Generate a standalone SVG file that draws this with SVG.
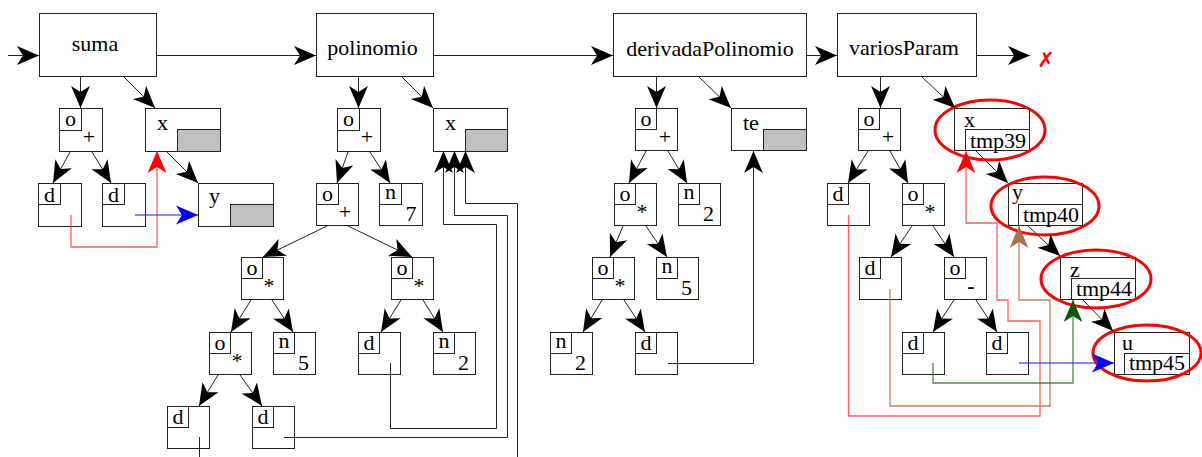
<svg xmlns="http://www.w3.org/2000/svg" width="1202" height="457" viewBox="0 0 1202 457">
<defs>
<style>
.box{fill:#fff;stroke:#222;stroke-width:1}
.tag{fill:none;stroke:#222;stroke-width:1}
.gray{fill:#c0c0c0;stroke:#222;stroke-width:1}
.inner{fill:#fff;stroke:#222;stroke-width:1}
.t{font-family:"Liberation Serif","Times New Roman",serif;font-size:22px;fill:#000}
.m{text-anchor:middle}
.e{fill:none;stroke:#222;stroke-width:1;marker-end:url(#ak)}
.ln{fill:none;stroke:#222;stroke-width:1}
.cr{fill:none;stroke:#ff2a2a;stroke-opacity:.75;stroke-width:1.3;marker-end:url(#ar)}
.cb{fill:none;stroke:#2a2aff;stroke-opacity:.75;stroke-width:1.3;marker-end:url(#ab)}
.cn{fill:none;stroke:#b07050;stroke-opacity:.85;stroke-width:1.3;marker-end:url(#an)}
.cg{fill:none;stroke:#1e6a1e;stroke-opacity:.8;stroke-width:1.3;marker-end:url(#ag)}
.hl{fill:none;stroke:#f00;stroke-width:3}
</style>
<marker id="ak" viewBox="0 0 22 20" refX="22" refY="10" markerWidth="22" markerHeight="20" markerUnits="userSpaceOnUse" orient="auto"><path d="M0,0.6 L22,10 L0,19.4 L6,10 Z" fill="#000"/></marker>
<marker id="ar" viewBox="0 0 22 20" refX="22" refY="10" markerWidth="22" markerHeight="20" markerUnits="userSpaceOnUse" orient="auto"><path d="M0,0.6 L22,10 L0,19.4 L6,10 Z" fill="#f00"/></marker>
<marker id="ab" viewBox="0 0 22 20" refX="22" refY="10" markerWidth="22" markerHeight="20" markerUnits="userSpaceOnUse" orient="auto"><path d="M0,0.6 L22,10 L0,19.4 L6,10 Z" fill="#00f"/></marker>
<marker id="an" viewBox="0 0 22 20" refX="22" refY="10" markerWidth="22" markerHeight="20" markerUnits="userSpaceOnUse" orient="auto"><path d="M0,0.6 L22,10 L0,19.4 L6,10 Z" fill="#a8704e"/></marker>
<marker id="ag" viewBox="0 0 22 20" refX="22" refY="10" markerWidth="22" markerHeight="20" markerUnits="userSpaceOnUse" orient="auto"><path d="M0,0.6 L22,10 L0,19.4 L6,10 Z" fill="#0a5a0a"/></marker>
</defs>
<rect width="1202" height="457" fill="#fff"/>

<!-- function boxes -->
<g id="f_suma"><rect class="box" x="39.5" y="13.5" width="117" height="63"/><text class="t m" x="95" y="51">suma</text></g>
<g id="f_polinomio"><rect class="box" x="316.5" y="13.5" width="117" height="63"/><text class="t m" x="372.5" y="55">polinomio</text></g>
<g id="f_derivada"><rect class="box" x="613.5" y="13.5" width="193" height="63"/><text class="t m" x="710" y="56">derivadaPolinomio</text></g>
<g id="f_varios"><rect class="box" x="837.5" y="13.5" width="139" height="63"/><text class="t m" x="904" y="55">variosParam</text></g>
<g id="end_mark"><text x="1046" y="67" font-family="DejaVu Sans, sans-serif" font-size="21" fill="#f00" text-anchor="middle">✗</text></g>

<!-- suma nodes -->
<g id="sum_op"><rect class="box" x="59.5" y="108.5" width="43" height="43"/><rect class="tag" x="59.5" y="108.5" width="22" height="22"/><text class="t m" x="70.5" y="126">o</text><text class="t m" x="89" y="144">+</text></g>
<g id="sum_x"><rect class="box" x="145.5" y="108.5" width="75" height="43"/><rect class="gray" x="177.5" y="129.5" width="43" height="22"/><text class="t" x="157" y="130">x</text></g>
<g id="sum_d1"><rect class="box" x="38.5" y="183.5" width="43" height="43"/><rect class="tag" x="38.5" y="183.5" width="22" height="21"/><text class="t m" x="49.5" y="202">d</text></g>
<g id="sum_d2"><rect class="box" x="102.5" y="183.5" width="43" height="43"/><rect class="tag" x="102.5" y="183.5" width="22" height="21"/><text class="t m" x="113.5" y="202">d</text></g>
<g id="sum_y"><rect class="box" x="198.5" y="183.5" width="75" height="43"/><rect class="gray" x="230.5" y="204.5" width="43" height="22"/><text class="t" x="209" y="203">y</text></g>

<!-- polinomio nodes -->
<g id="pol_op1"><rect class="box" x="337.5" y="108.5" width="43" height="43"/><rect class="tag" x="337.5" y="108.5" width="22" height="22"/><text class="t m" x="348.5" y="126">o</text><text class="t m" x="367" y="144">+</text></g>
<g id="pol_x"><rect class="box" x="433.5" y="108.5" width="74" height="43"/><rect class="gray" x="465.5" y="129.5" width="42" height="22"/><text class="t" x="445" y="130">x</text></g>
<g id="pol_op2"><rect class="box" x="316.5" y="183.5" width="42" height="42"/><rect class="tag" x="316.5" y="183.5" width="22" height="21"/><text class="t m" x="327.5" y="201">o</text><text class="t m" x="345" y="219">+</text></g>
<g id="pol_n7"><rect class="box" x="379.5" y="183.5" width="43" height="42"/><rect class="tag" x="379.5" y="183.5" width="22" height="21"/><text class="t m" x="390.5" y="199">n</text><text class="t m" x="411" y="221">7</text></g>
<g id="pol_mul1"><rect class="box" x="241.5" y="257.5" width="42" height="42"/><rect class="tag" x="241.5" y="257.5" width="21" height="21"/><text class="t m" x="252" y="275">o</text><text class="t m" x="269" y="293">*</text></g>
<g id="pol_mul2"><rect class="box" x="391.5" y="257.5" width="42" height="42"/><rect class="tag" x="391.5" y="257.5" width="21" height="21"/><text class="t m" x="402" y="275">o</text><text class="t m" x="419" y="293">*</text></g>
<g id="pol_mul3"><rect class="box" x="209.5" y="332.5" width="42" height="42"/><rect class="tag" x="209.5" y="332.5" width="21" height="21"/><text class="t m" x="220" y="350">o</text><text class="t m" x="237" y="368">*</text></g>
<g id="pol_n5"><rect class="box" x="273.5" y="332.5" width="42" height="42"/><rect class="tag" x="273.5" y="332.5" width="21" height="21"/><text class="t m" x="284" y="348">n</text><text class="t m" x="303.5" y="370">5</text></g>
<g id="pol_d1"><rect class="box" x="358.5" y="332.5" width="42" height="42"/><rect class="tag" x="358.5" y="332.5" width="21" height="21"/><text class="t m" x="369" y="350">d</text></g>
<g id="pol_n2"><rect class="box" x="433.5" y="332.5" width="42" height="42"/><rect class="tag" x="433.5" y="332.5" width="21" height="21"/><text class="t m" x="444" y="348">n</text><text class="t m" x="463.5" y="370">2</text></g>
<g id="pol_d2"><rect class="box" x="167.5" y="406.5" width="42" height="42"/><rect class="tag" x="167.5" y="406.5" width="21" height="21"/><text class="t m" x="178" y="424">d</text></g>
<g id="pol_d3"><rect class="box" x="252.5" y="406.5" width="42" height="42"/><rect class="tag" x="252.5" y="406.5" width="21" height="21"/><text class="t m" x="263" y="424">d</text></g>

<!-- derivadaPolinomio nodes -->
<g id="der_op1"><rect class="box" x="635.5" y="108.5" width="42" height="42"/><rect class="tag" x="635.5" y="108.5" width="21" height="21"/><text class="t m" x="646" y="126">o</text><text class="t m" x="665" y="144">+</text></g>
<g id="der_te"><rect class="box" x="731.5" y="108.5" width="75" height="42"/><rect class="gray" x="763.5" y="129.5" width="43" height="21"/><text class="t" x="743" y="130">te</text></g>
<g id="der_mul1"><rect class="box" x="614.5" y="183.5" width="42" height="42"/><rect class="tag" x="614.5" y="183.5" width="21" height="21"/><text class="t m" x="625" y="201">o</text><text class="t m" x="642" y="219">*</text></g>
<g id="der_n2"><rect class="box" x="678.5" y="183.5" width="42" height="42"/><rect class="tag" x="678.5" y="183.5" width="21" height="21"/><text class="t m" x="689" y="199">n</text><text class="t m" x="708.5" y="221">2</text></g>
<g id="der_mul2"><rect class="box" x="592.5" y="257.5" width="42" height="42"/><rect class="tag" x="592.5" y="257.5" width="21" height="21"/><text class="t m" x="603" y="275">o</text><text class="t m" x="620" y="293">*</text></g>
<g id="der_n5"><rect class="box" x="656.5" y="257.5" width="42" height="42"/><rect class="tag" x="656.5" y="257.5" width="21" height="21"/><text class="t m" x="667" y="273">n</text><text class="t m" x="686.5" y="295">5</text></g>
<g id="der_n2b"><rect class="box" x="550.5" y="332.5" width="42" height="42"/><rect class="tag" x="550.5" y="332.5" width="21" height="21"/><text class="t m" x="561" y="348">n</text><text class="t m" x="580.5" y="370">2</text></g>
<g id="der_d"><rect class="box" x="635.5" y="332.5" width="42" height="42"/><rect class="tag" x="635.5" y="332.5" width="21" height="21"/><text class="t m" x="646" y="350">d</text></g>

<!-- variosParam nodes -->
<g id="var_op1"><rect class="box" x="858.5" y="108.5" width="42" height="42"/><rect class="tag" x="858.5" y="108.5" width="21" height="21"/><text class="t m" x="869" y="126">o</text><text class="t m" x="888" y="144">+</text></g>
<g id="var_x"><rect class="box" x="954.5" y="108.5" width="75" height="42"/><rect class="inner" x="965.5" y="129.5" width="64" height="21"/><text class="t" x="964" y="127">x</text><text class="t m" x="998" y="148">tmp39</text></g>
<g id="var_d1"><rect class="box" x="827.5" y="183.5" width="42" height="42"/><rect class="tag" x="827.5" y="183.5" width="21" height="21"/><text class="t m" x="838" y="201">d</text></g>
<g id="var_mul"><rect class="box" x="902.5" y="183.5" width="42" height="42"/><rect class="tag" x="902.5" y="183.5" width="21" height="21"/><text class="t m" x="913" y="201">o</text><text class="t m" x="930" y="219">*</text></g>
<g id="var_y"><rect class="box" x="1008.5" y="183.5" width="74" height="42"/><rect class="inner" x="1018.5" y="204.5" width="64" height="21"/><text class="t" x="1012" y="199">y</text><text class="t m" x="1051" y="222">tmp40</text></g>
<g id="var_d2"><rect class="box" x="859.5" y="257.5" width="42" height="42"/><rect class="tag" x="859.5" y="257.5" width="21" height="21"/><text class="t m" x="870" y="275">d</text></g>
<g id="var_minus"><rect class="box" x="944.5" y="257.5" width="42" height="42"/><rect class="tag" x="944.5" y="257.5" width="21" height="21"/><text class="t m" x="955" y="275">o</text><text class="t m" x="971" y="293" font-weight="bold">-</text></g>
<g id="var_z"><rect class="box" x="1060.5" y="257.5" width="75" height="42"/><rect class="inner" x="1071.5" y="278.5" width="64" height="21"/><text class="t" x="1070" y="277">z</text><text class="t m" x="1104" y="296">tmp44</text></g>
<g id="var_d3"><rect class="box" x="902.5" y="332.5" width="42" height="42"/><rect class="tag" x="902.5" y="332.5" width="21" height="21"/><text class="t m" x="913" y="350">d</text></g>
<g id="var_d4"><rect class="box" x="986.5" y="332.5" width="42" height="42"/><rect class="tag" x="986.5" y="332.5" width="21" height="21"/><text class="t m" x="997" y="350">d</text></g>
<g id="var_u"><rect class="box" x="1114.5" y="332.5" width="75" height="42"/><rect class="inner" x="1124.5" y="353.5" width="65" height="21"/><text class="t" x="1122" y="350">u</text><text class="t m" x="1157" y="370">tmp45</text></g>

<!-- highlights -->
<g id="highlights">
<ellipse class="hl" cx="990" cy="130" rx="55" ry="30"/>
<ellipse class="hl" cx="1045" cy="206" rx="54" ry="29"/>
<ellipse class="hl" cx="1096" cy="279" rx="55" ry="29"/>
<ellipse class="hl" cx="1147" cy="353" rx="54" ry="28"/>
</g>

<!-- connectors -->
<g id="connectors">
<line class="e" x1="8" y1="55.5" x2="39" y2="55.5"/>
<line class="e" x1="157" y1="55.5" x2="316" y2="55.5"/>
<line class="e" x1="434" y1="55.5" x2="613" y2="55.5"/>
<line class="e" x1="807" y1="55.5" x2="837" y2="55.5"/>
<line class="e" x1="977" y1="55.5" x2="1030" y2="55.5"/>

<line class="e" x1="80.5" y1="77" x2="80.5" y2="108"/>
<line class="e" x1="124" y1="77" x2="155" y2="108"/>
<line class="e" x1="70" y1="152" x2="53" y2="183"/>
<line class="e" x1="92" y1="152" x2="111" y2="183"/>
<line class="e" x1="167" y1="152" x2="198" y2="183"/>

<line class="e" x1="358.5" y1="77" x2="358.5" y2="108"/>
<line class="e" x1="402" y1="77" x2="433" y2="108"/>
<line class="e" x1="348" y1="152" x2="337" y2="183"/>
<line class="e" x1="370" y1="152" x2="390" y2="183"/>
<line class="e" x1="327" y1="226" x2="263" y2="257"/>
<line class="e" x1="348" y1="226" x2="412" y2="257"/>
<line class="e" x1="251" y1="300" x2="231" y2="332"/>
<line class="e" x1="272" y1="300" x2="293" y2="332"/>
<line class="e" x1="401" y1="300" x2="381" y2="332"/>
<line class="e" x1="423" y1="300" x2="443" y2="332"/>
<line class="e" x1="218" y1="375" x2="199" y2="406"/>
<line class="e" x1="240" y1="375" x2="262" y2="406"/>

<line class="e" x1="656.5" y1="77" x2="656.5" y2="108"/>
<line class="e" x1="699" y1="77" x2="731" y2="108"/>
<line class="e" x1="646" y1="151" x2="629" y2="183"/>
<line class="e" x1="668" y1="151" x2="687" y2="183"/>
<line class="e" x1="623" y1="226" x2="610" y2="257"/>
<line class="e" x1="646" y1="226" x2="667" y2="257"/>
<line class="e" x1="602" y1="300" x2="583" y2="332"/>
<line class="e" x1="624" y1="300" x2="645" y2="332"/>

<line class="e" x1="880.5" y1="77" x2="880.5" y2="108"/>
<line class="e" x1="922" y1="77" x2="955" y2="108"/>
<line class="e" x1="976" y1="151" x2="1008" y2="183"/>
<line class="e" x1="1028" y1="226" x2="1060" y2="256"/>
<line class="e" x1="1083" y1="300" x2="1113" y2="331"/>
<line class="e" x1="868" y1="151" x2="848" y2="183"/>
<line class="e" x1="890" y1="151" x2="908" y2="183"/>
<line class="e" x1="912" y1="226" x2="891" y2="257"/>
<line class="e" x1="933" y1="226" x2="954" y2="257"/>
<line class="e" x1="954" y1="300" x2="933" y2="332"/>
<line class="e" x1="976" y1="300" x2="997" y2="332"/>

<polyline class="e" points="390.5,363 390.5,428.5 496.5,428.5 496.5,224.5 443.5,224.5 443.5,151"/>
<polyline class="e" points="284,437.5 507.5,437.5 507.5,215.5 454.5,215.5 454.5,151"/>
<polyline class="e" points="517.5,457 517.5,203.5 465.5,203.5 465.5,151"/>
<line class="ln" x1="199.5" y1="437" x2="199.5" y2="457"/>
<polyline class="e" points="668,363.5 753.5,363.5 753.5,151"/>

<polyline class="cr" points="71,215 71,247 157,247 157,151"/>
<line class="cb" x1="135" y1="215" x2="198" y2="215"/>
<polyline class="cr" points="848.5,215 848.5,416 1040,416 1040,321 1008,321 1008,300 997,300 997,223 966,223 966,151"/>
<polyline class="cn" points="890,289 890,406 1050,406 1050,300 1019,300 1019,226"/>
<polyline class="cg" points="933,363 933,383 1073,383 1073,300"/>
<line class="cb" x1="1019" y1="363" x2="1114" y2="363"/>
</g>
</svg>
